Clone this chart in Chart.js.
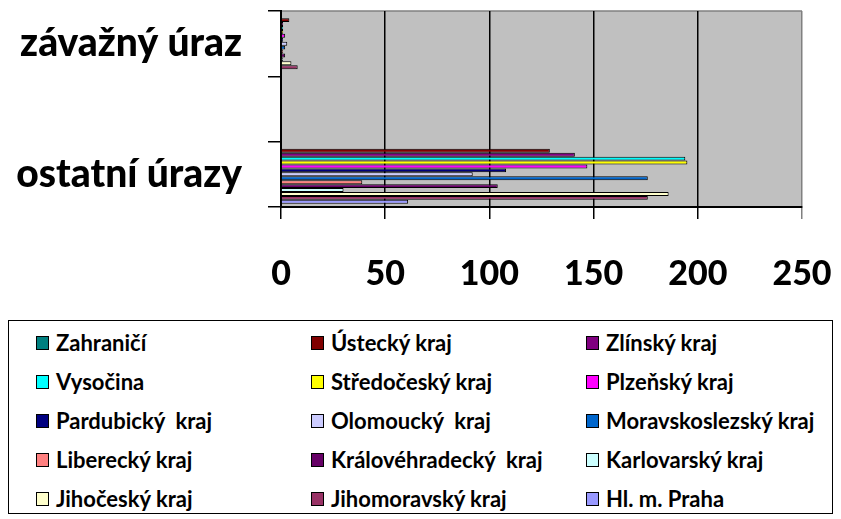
<!DOCTYPE html>
<html>
<head>
<meta charset="utf-8">
<script src="https://cdn.jsdelivr.net/npm/chart.js@4"></script>
<style>
  html, body { margin: 0; padding: 0; background: #fff; }
  #wrap { position: relative; width: 841px; height: 519px; }
  #chart { position: absolute; left: 0; top: 0; }
  #legend {
    position: absolute; left: 8px; top: 320px; width: 825px; height: 194px;
    box-sizing: border-box; border: 1.5px solid #000;
    display: grid; grid-template-columns: repeat(3, 275px); grid-auto-rows: 39px;
    padding: 2px 0 0 27px;
    font-family: Lato, sans-serif; font-weight: bold; font-size: 22px; color: #000;
  }
  .item { display: flex; align-items: center; white-space: pre; }
  .box { width: 13px; height: 14px; box-sizing: border-box; border: 1.5px solid #000; margin-right: 7px; }
</style>
</head>
<body>
<div id="wrap">
  <canvas id="chart" width="841" height="300"></canvas>
  <div id="legend"></div>
</div>
<script>
// categories (middle one is an empty slot in the original sheet)
const categories = ["závažný úraz", "", "ostatní úrazy"];

const regions = [
  "Zahraničí", "Ústecký kraj", "Zlínský kraj",
  "Vysočina", "Středočeský kraj", "Plzeňský kraj",
  "Pardubický  kraj", "Olomoucký  kraj", "Moravskoslezský kraj",
  "Liberecký kraj", "Královéhradecký  kraj", "Karlovarský kraj",
  "Jihočeský kraj", "Jihomoravský kraj", "Hl. m. Praha"
];

const colors = [
  "#008080", "#800000", "#800080",
  "#00FFFF", "#FFFF00", "#FF00FF",
  "#000080", "#CCCCFF", "#0066CC",
  "#FF8080", "#660066", "#CCFFFF",
  "#FFFFCC", "#993366", "#9999FF"
];

// values per region: [závažný úraz, ostatní úrazy]
const seriousInjury = [0, 4, 1, 1, 1, 2, 1, 3, 2, 1, 2, 1, 5, 8, 0];
const otherInjuries = [0, 129, 141, 194, 195, 147, 108, 92, 176, 39, 104, 30, 186, 176, 61];

const xTicks = [0, 50, 100, 150, 200, 250];

const datasets = regions.map((name, i) => ({
  label: name,
  data: [seriousInjury[i], null, otherInjuries[i]],
  backgroundColor: colors[i],
  borderColor: "#000",
  borderWidth: 1,
  borderSkipped: "start",
  categoryPercentage: 0.9,
  barPercentage: 1.0,
}));

const plotBg = {
  id: "plotBg",
  beforeDraw(chart) {
    const { ctx, chartArea: a } = chart;
    ctx.save();
    ctx.fillStyle = "#C0C0C0";
    ctx.fillRect(a.left, a.top, a.right - a.left, a.bottom - a.top);
    ctx.strokeStyle = "#808080";
    ctx.lineWidth = 1.5;
    ctx.beginPath();
    ctx.moveTo(a.left, a.top);
    ctx.lineTo(a.right, a.top);
    ctx.stroke();
    ctx.restore();
  },
};

// keep the plot area fixed, no label overflow padding
function noPad(scale) {
  scale.paddingTop = 0;
  scale.paddingBottom = 0;
  scale.paddingLeft = 0;
  scale.paddingRight = 0;
}

const ctx = document.getElementById("chart").getContext("2d");
const chart = new Chart(ctx, {
  type: "bar",
  data: { labels: categories, datasets: datasets },
  options: {
    indexAxis: "y",
    responsive: false,
    animation: false,
    layout: { padding: { top: 11, right: 39, left: 0, bottom: 0 } },
    plugins: { legend: { display: false }, tooltip: { enabled: false } },
    scales: {
      x: {
        min: 0,
        max: 250,
        afterBuildTicks(scale) {
          scale.ticks = xTicks.map((v) => ({ value: v }));
        },
        afterFit(scale) { scale.height = 93; noPad(scale); },
        grid: {
          color: (c) => (c.tick && c.tick.value === 250 ? "#808080" : "#000"),
          lineWidth: 1.5,
          tickLength: 12,
        },
        border: { color: "#000", width: 2 },
        ticks: {
          padding: 35,
          color: "#000",
          font: { family: "Lato", weight: "900", size: 34 },
        },
      },
      y: {
        afterFit(scale) { scale.width = 281; noPad(scale); },
        grid: {
          drawOnChartArea: false,
          color: "#000",
          lineWidth: 1.5,
          tickLength: 13,
        },
        border: { color: "#000", width: 2 },
        ticks: {
          padding: 26,
          color: "#000",
          font: { family: "Lato", weight: "900", size: 39 },
        },
      },
    },
  },
  plugins: [plotBg],
});

// html legend built from the chart datasets
const legendEl = document.getElementById("legend");
chart.data.datasets.forEach((ds) => {
  const item = document.createElement("div");
  item.className = "item";
  const box = document.createElement("span");
  box.className = "box";
  box.style.background = ds.backgroundColor;
  item.appendChild(box);
  item.appendChild(document.createTextNode(ds.label));
  legendEl.appendChild(item);
});
</script>
</body>
</html>
